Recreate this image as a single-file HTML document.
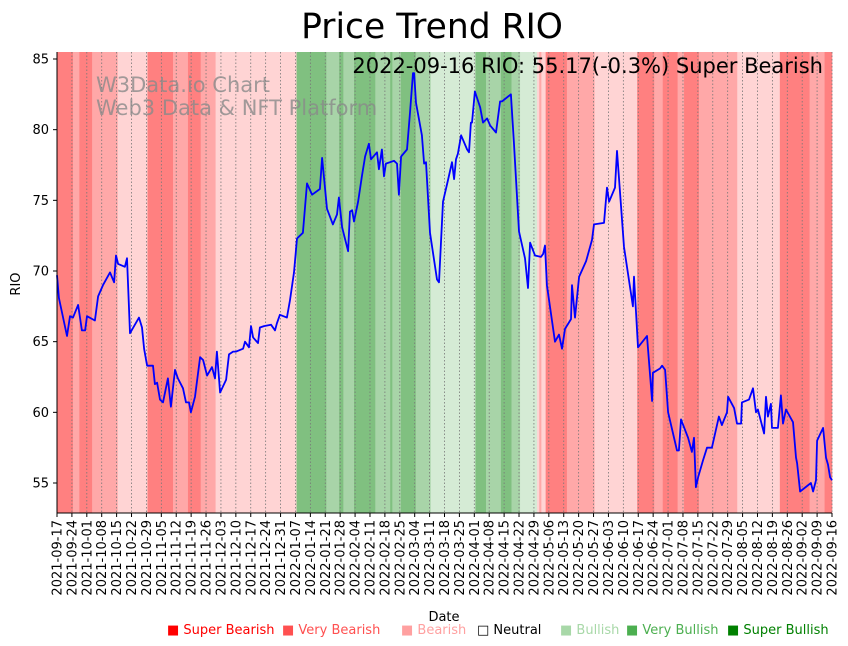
<!DOCTYPE html>
<html><head><meta charset="utf-8"><style>
body{margin:0;background:#fff;}
svg{display:block;font-family:"DejaVu Sans","Liberation Sans",sans-serif;}
</style></head><body>
<svg id="chart" width="848" height="646" viewBox="0 0 848 646">
<g id="bands"></g>
<g id="grid"></g>
<g id="series"></g>
<g id="axes"></g>
<text x="432" y="38" font-size="34.5" text-anchor="middle">Price Trend RIO</text>
<text x="96" y="92" font-size="21" fill="#8a8a8a" fill-opacity="0.8">W3Data.io Chart</text>
<text x="96" y="115" font-size="21" fill="#8a8a8a" fill-opacity="0.8">Web3 Data &amp; NFT Platform</text>
<text x="823" y="73" font-size="21" text-anchor="end">2022-09-16 RIO: 55.17(-0.3%) Super Bearish</text>
<text x="20" y="284" font-size="13" text-anchor="middle" transform="rotate(-90 20 284)">RIO</text>
<text x="444" y="621" font-size="13" text-anchor="middle">Date</text>
<g font-size="13">
<text x="167" y="634" fill="#ff0000">■ Super Bearish</text>
<text x="282" y="634" fill="#ff5050">■ Very Bearish</text>
<text x="401" y="634" fill="#ffa0a0">■ Bearish</text>
<text x="477" y="634" fill="#000000">□ Neutral</text>
<text x="560" y="634" fill="#a8d8a8">■ Bullish</text>
<text x="626" y="634" fill="#4caf50">■ Very Bullish</text>
<text x="727" y="634" fill="#008000">■ Super Bullish</text>
</g>
</svg>
<script>
const priceDays=[0,0.9,4.7,6.1,7.5,9.9,11.7,13.2,14.1,17.8,19.3,21.6,24.9,26.8,27.7,28.7,31.9,32.9,34.3,38.5,39.9,40.9,42.3,45.1,46,47,48.4,49.8,52.1,53.5,55.4,56.8,59.2,60.6,62,62.9,64.8,67.2,68.6,70.5,72.8,74.2,75.1,76.6,79.4,80.8,82.7,84.1,87.4,88.3,90.2,91.1,92.1,94.4,95.3,97.2,100.5,102.4,103.3,104.7,108,109.4,111.3,112.7,115.5,117.4,119.8,123.5,124.5,126.8,129.6,131.5,132.4,133.9,136.7,137.6,138.6,139.5,141.4,143.2,144.7,146.5,147.5,150.3,151.2,152.6,153.6,154.5,158.3,159.7,160.6,161.6,164.4,165.8,167.2,167.7,168.6,171.4,172.4,173.3,175.2,178.5,179.4,181.3,183.6,185.5,186.5,187.4,188.3,189.8,192.6,193.5,194.4,194.9,196.3,198.7,200.1,202,203.4,206.2,208.1,209,213.2,214.6,217,219.8,221.2,222.2,224.5,227.3,228.3,229.2,230.1,233.9,235.8,237.2,238.6,241.4,241.9,243.3,245.2,248.5,251.3,252.2,256.9,258.3,259.3,262.1,263,266.3,270.5,271,272.9,277.1,279.5,279.9,283.2,284.2,285.6,287,291.2,292.1,293.1,296.4,298.2,299.2,300.1,301.1,303.4,305.3,307.6,310.9,312.3,314.7,315.2,318,319.4,321.3,321.7,325,326.9,328.3,329.2,332.1,333,333.9,335.3,335.8,338.6,340,341,342.4,345.7,347.1,347.6,349,354.1,355.1,356.5,357,359.8,361.2,362.1,363.1,364];
const priceValues=[69.7,68.1,65.4,66.8,66.7,67.6,65.8,65.8,66.8,66.5,68.2,69.0,69.9,69.2,71.1,70.5,70.3,70.9,65.6,66.7,66.0,64.5,63.3,63.3,62.0,62.1,60.9,60.7,62.4,60.4,63.0,62.4,61.7,60.7,60.7,60.0,61.1,63.9,63.7,62.6,63.2,62.4,64.3,61.4,62.3,64.1,64.3,64.3,64.5,65.0,64.6,66.1,65.3,64.9,66.0,66.1,66.2,65.8,66.3,66.9,66.7,67.9,69.9,72.3,72.7,76.2,75.4,75.8,78.0,74.4,73.3,74.0,75.2,73.1,71.4,74.2,74.3,73.5,74.9,76.7,78.1,79.0,77.9,78.4,77.2,78.6,76.7,77.6,77.8,77.6,75.4,78.1,78.6,81.2,84.0,84.0,81.9,79.6,77.6,77.7,72.7,69.4,69.2,74.9,76.4,77.7,76.5,77.9,78.3,79.6,78.6,78.4,80.5,80.5,82.7,81.6,80.5,80.8,80.3,79.8,82.0,82.0,82.5,79.1,72.8,70.9,68.8,72.0,71.1,71.0,71.2,71.8,69.0,65.0,65.5,64.5,65.9,66.6,69.0,66.7,69.6,70.7,72.2,73.3,73.4,75.9,74.9,75.9,78.5,71.7,67.5,69.6,64.6,65.4,60.8,62.8,63.1,63.3,63.0,60.0,57.3,57.3,59.5,58.2,57.2,58.2,54.7,55.4,56.6,57.5,57.5,59.7,59.1,60.0,61.1,60.3,59.2,59.2,60.7,60.9,61.7,60.0,60.2,58.5,61.1,59.7,60.6,58.9,58.9,61.2,59.2,60.2,59.3,56.8,56.4,54.4,55.0,54.4,55.2,58.0,58.9,56.8,56.3,55.4,55.2];
const bandStarts=[0,8,11,17,29,43,55,57,62,68,75,113,127,133,135,140,150,157,158,162,169,176,197,202,209,214,218,226,227,228,230,240,253,273,281,285,292,295,302,320,340,354,361];
const bandEnds=[8,11,17,29,43,55,57,62,68,75,113,127,133,135,140,150,157,158,162,169,176,197,202,209,214,218,226,227,228,230,240,253,273,281,285,292,295,302,320,340,354,361,365];
const bandLevels=[-3,-2,-3,-2,-1,-3,-2,-2,-3,-2,-1,3,2,3,2,3,2,3,2,3,2,1,3,2,3,2,1,-1,-2,-1,-3,-2,-1,-3,-2,-3,-2,-3,-2,-1,-3,-2,-3];
const yTicks=[55,60,65,70,75,80,85];
const startDate=new Date(Date.UTC(2021,8,17));
const tickCount=53;

const NS="http://www.w3.org/2000/svg";
const X0=57,X1=832,Y0=52,Y1=513;
function xScale(d){return X0+(X1-X0)*d/364;}
function yScale(v){return 483-(v-55)*(424/30);}
function mk(tag,attrs,parent){const e=document.createElementNS(NS,tag);for(const k in attrs)e.setAttribute(k,attrs[k]);parent.appendChild(e);return e;}
const colors={"-3":"#ff8080","-2":"#ffa8a8","-1":"#ffd4d4","1":"#d5ebd5","2":"#a8d4a8","3":"#80c080"};
const bands=document.getElementById('bands');
for(let i=0;i<bandStarts.length;i++){
  const x1=Math.max(X0,xScale(bandStarts[i]-0.5)),x2=Math.min(X1,xScale(bandEnds[i]-0.5));
  const r=mk('rect',{x:x1,y:Y0,width:Math.max(0,x2-x1)+0.3,height:Y1-Y0,fill:colors[bandLevels[i]]},bands);
  
  
}
const grid=document.getElementById('grid'),axes=document.getElementById('axes');
for(let i=0;i<tickCount;i++){
  const d=i*7,x=xScale(d);
  const g=mk('line',{x1:x,x2:x,y1:Y0,y2:Y1,stroke:'#777','stroke-width':0.8,'stroke-dasharray':'1.5,2'},grid);
  
  
  mk('line',{x1:x,x2:x,y1:Y1,y2:Y1+4,stroke:'#000','stroke-width':1},axes);
  const dt=new Date(startDate.getTime()+d*86400000);
  const s=dt.toISOString().slice(0,10);
  const t=mk('text',{x:0,y:0,'font-size':13,'text-anchor':'end',transform:`translate(${x+4.5},${Y1+7}) rotate(-90)`},axes);
  t.textContent=s;
  
  
}
yTicks.forEach(v=>{
  const y=yScale(v);
  mk('line',{x1:X0-4,x2:X0,y1:y,y2:y,stroke:'#000','stroke-width':1},axes);
  const t=mk('text',{x:X0-8,y:y+4.5,'font-size':13,'text-anchor':'end'},axes);
  t.textContent=v;
  
  
});
const sl=mk('line',{x1:X0,x2:X0,y1:Y0,y2:Y1,stroke:'#000','stroke-width':1},axes);


const sb=mk('line',{x1:X0,x2:X1,y1:Y1,y2:Y1,stroke:'#000','stroke-width':1},axes);


const pts=priceDays.map((d,i)=>xScale(d).toFixed(1)+','+yScale(priceValues[i]).toFixed(1)).join(' ');
const line=mk('polyline',{points:pts,fill:'none',stroke:'#0000ff','stroke-width':1.8,'stroke-linejoin':'round'},document.getElementById('series'));


</script>
</body></html>
